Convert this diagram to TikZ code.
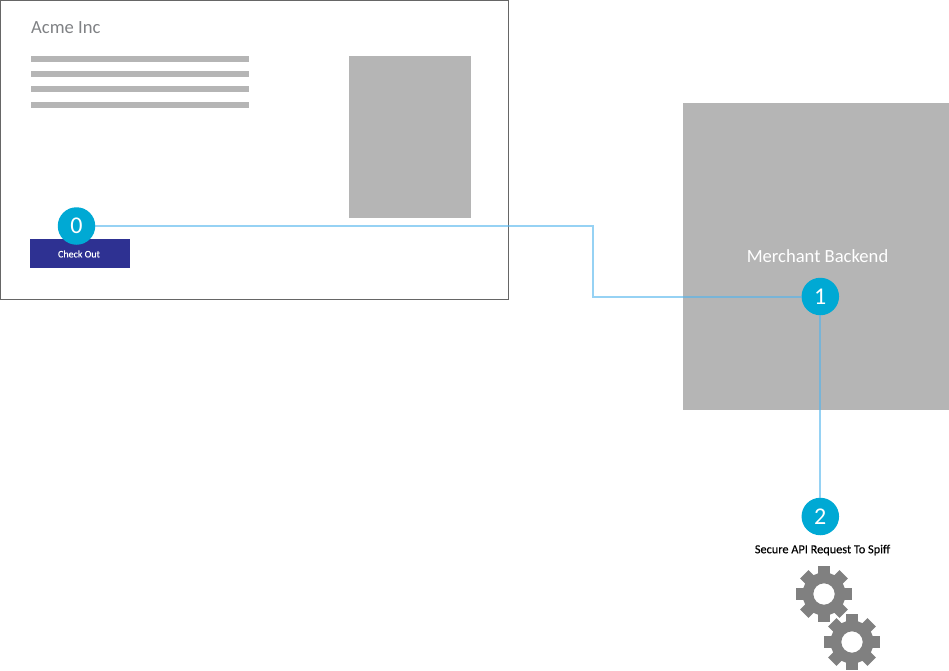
\documentclass[tikz,border=0pt]{standalone}
\usepackage{fontspec}
\setmainfont{Carlito}
\newfontfamily\smallheavy[FakeBold=0.25]{Carlito}
\definecolor{framegrey}{HTML}{666666}
\definecolor{blockgrey}{HTML}{B5B5B5}
\definecolor{btnblue}{HTML}{2E3192}
\definecolor{stepblue}{HTML}{00A9D4}
\definecolor{linkblue}{RGB}{80,180,238}
\definecolor{titlegrey}{HTML}{808285}
\definecolor{gearfill}{HTML}{808080}
\tikzset{
  x=1pt,y=-1pt,
  stepdot/.style={circle,fill=stepblue,minimum size=37.5pt,inner sep=0pt,outer sep=0pt,text=white,font=\fontsize{24}{24}\selectfont},
  link/.style={draw=linkblue,draw opacity=.6,line width=2pt},
  block/.style={fill=blockgrey,draw=none,inner sep=0pt,outer sep=0pt},
  pics/gearicon/.style={code={
    \fill[gearfill,even odd rule]
      (-16:21.5pt) \foreach \k in {0,45,...,315}{
        -- ({\k-16}:21.5pt) -- ({\k-12}:28.5pt) -- ({\k+12}:28.5pt) -- ({\k+16}:21.5pt)
        arc[start angle={\k+16},end angle={\k+29},radius=21.5pt]
      } -- cycle
      (0,0) circle[radius=10.7pt];
  }}
}
\begin{document}
\begin{tikzpicture}
\useasboundingbox (0,0) rectangle (949,670);
\fill[white] (0,0) rectangle (949,670);
\node[draw=framegrey,line width=1pt,minimum width=508pt,minimum height=299pt,inner sep=0pt,outer sep=0pt,anchor=north west] (page) at (0.4,0.4) {};
\node[block,minimum width=122pt,minimum height=162pt,anchor=north west] (photo) at (349,56) {};
\foreach \n/\y in {a/56,b/71,c/86,d/102}
  \node[block,minimum width=218pt,minimum height=6pt,anchor=north west] (bar\n) at (31,\y) {};
\node[anchor=west,inner sep=0pt,text=titlegrey,font=\fontsize{18.6}{19}\selectfont] (title) at (31,27.8) {Acme Inc};
\node[fill=btnblue,minimum width=100pt,minimum height=29.5pt,inner sep=0pt,outer sep=0pt,anchor=north west] (btn) at (30,238.5) {};
\node[text=white,inner sep=0pt,font=\smallheavy\fontsize{10}{10}\selectfont] (btnlabel) at (79,254) {Check Out};
\node[block,minimum width=266.5pt,minimum height=307pt,anchor=north west] (backend) at (682.5,103) {};
\node[text=white,inner sep=0pt,font=\fontsize{18.6}{19}\selectfont] (backendlabel) at (817.5,256) {Merchant Backend};
\node[stepdot] (n0) at (76.5,226) {0};
\node[stepdot] (n1) at (820.3,296.5) {1};
\node[stepdot] (n2) at (820.3,516.5) {2};
\coordinate (bendA) at (593,226);
\coordinate (bendB) at (593,296.5);
\draw[link] (n0) -- (bendA) -- (bendB) -- (n1);
\draw[link] (n1) -- (n2);
\node[text=black,inner sep=0pt,font=\smallheavy\fontsize{12.3}{12.3}\selectfont] (apilabel) at (822.5,550) {Secure API Request To Spiff};
\pic at (824,594) {gearicon};
\pic at (852,642) {gearicon};
\end{tikzpicture}
\end{document}
